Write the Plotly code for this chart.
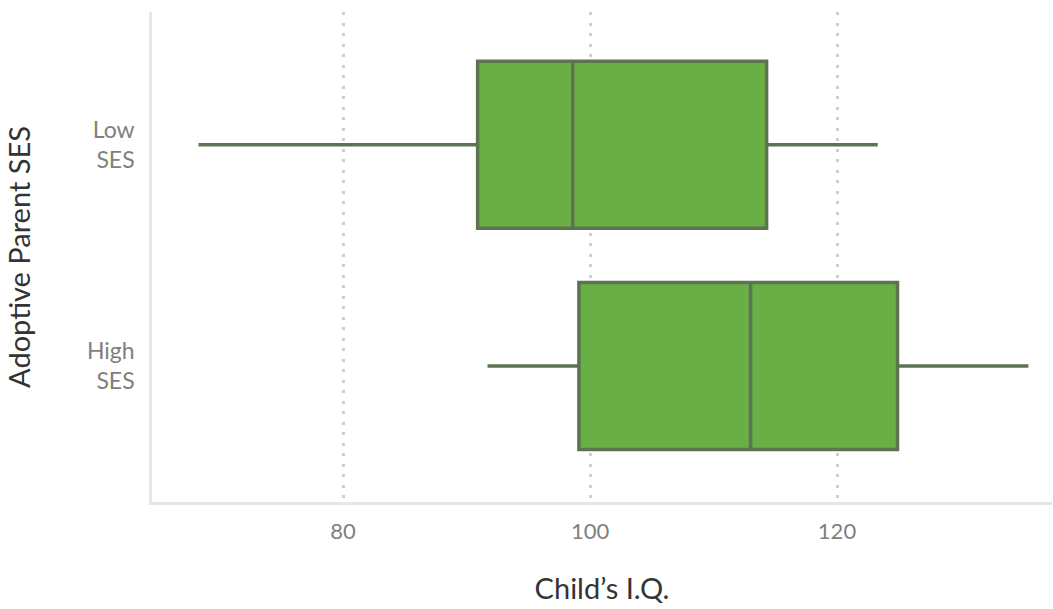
import plotly.graph_objects as go

# Adoptive parent SES groups and summary statistics of child's I.Q.
groups = ["Low<br>SES", "High<br>SES"]
lower_whisker = [68.3, 91.7]
q1 = [90.9, 99.1]
median = [98.6, 113.0]
q3 = [114.3, 124.9]
upper_whisker = [123.3, 135.5]

x_ticks = [80, 100, 120]

fill_color = "#6aaf45"
edge_color = "#5c7452"
font_family = "Lato, 'Source Sans Pro', 'Open Sans', sans-serif"

fig = go.Figure()
fig.add_trace(go.Box(
    y=groups,
    q1=q1,
    median=median,
    q3=q3,
    lowerfence=lower_whisker,
    upperfence=upper_whisker,
    orientation="h",
    fillcolor=fill_color,
    line=dict(color=edge_color, width=3.5),
    whiskerwidth=0,
    width=0.755,
    boxpoints=False,
    showlegend=False,
    hoverinfo="skip",
))

fig.update_layout(
    width=1053,
    height=609,
    margin=dict(l=152, r=1, t=12, b=107),
    paper_bgcolor="white",
    plot_bgcolor="white",
    font=dict(family=font_family),
    xaxis=dict(
        range=[64.53, 137.41],
        tickvals=x_ticks,
        ticktext=[str(v) for v in x_ticks],
        showgrid=True,
        gridcolor="#cfcfcf",
        gridwidth=3,
        griddash="3px,7.5px",
        zeroline=False,
        showline=True,
        linecolor="#e6e6e6",
        linewidth=2.5,
        ticks="",
        ticklabelstandoff=8,
        tickfont=dict(size=22, color="#7f7f7f"),
        title=dict(text="Child’s I.Q.", font=dict(size=29, color="#333333"), standoff=36),
    ),
    yaxis=dict(
        type="category",
        categoryorder="array",
        categoryarray=groups,
        range=[1.615, -0.6],
        showgrid=False,
        zeroline=False,
        showline=True,
        linecolor="#e6e6e6",
        linewidth=2.5,
        ticks="",
        ticklabelstandoff=10,
        tickfont=dict(size=23, color="#7f7f7f"),
        title=dict(text="Adoptive Parent SES", font=dict(size=29, color="#333333"), standoff=48),
    ),
)

fig.write_html("out.html")
